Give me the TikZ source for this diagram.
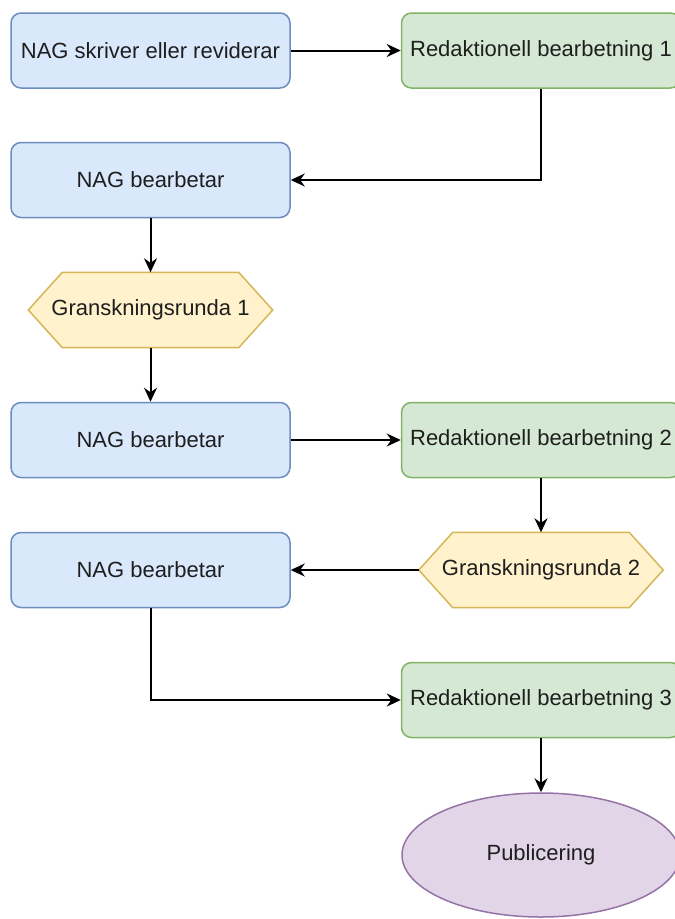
\documentclass[tikz,border=0pt]{standalone}
\usepackage{fontspec}
\setmainfont{Liberation Sans}
\usetikzlibrary{arrows.meta,shapes.geometric,backgrounds,calc}
\definecolor{bluefill}{HTML}{DAE8FC}
\definecolor{bluedraw}{HTML}{6C8EBF}
\definecolor{greenfill}{HTML}{D5E8D4}
\definecolor{greendraw}{HTML}{82B366}
\definecolor{yellowfill}{HTML}{FFF2CC}
\definecolor{yellowdraw}{HTML}{D6B656}
\definecolor{purplefill}{HTML}{E1D5E7}
\definecolor{purpledraw}{HTML}{9673A6}
\definecolor{txt}{HTML}{1E1E1E}
\tikzset{
  base/.style={font=\fontsize{22}{26}\selectfont, text=txt, inner sep=0pt},
  bluebox/.style={base, draw=bluedraw, fill=bluefill, line width=1.5pt, rounded corners=10pt, minimum width=279pt, minimum height=75pt},
  greenbox/.style={base, draw=greendraw, fill=greenfill, line width=1.5pt, rounded corners=10pt, minimum width=279pt, minimum height=75pt},
  hexnode/.style={base, minimum width=244pt, minimum height=75pt},
  hexshape/.style={draw=yellowdraw, fill=yellowfill, line width=1.5pt, line join=miter},
  pubnode/.style={base, ellipse, draw=purpledraw, fill=purplefill, line width=1.5pt, minimum width=278pt, minimum height=124pt},
  conn/.style={line width=2pt, -{Stealth[length=14pt,width=13pt]}}
}
\begin{document}
\begin{tikzpicture}[x=1pt,y=-1pt]
\clip (0,0) rectangle (675,919);
\node[bluebox] (n1) at (150.5,50.5) {NAG skriver eller reviderar};
\node[greenbox] (r1) at (541,50.5) {Redaktionell bearbetning 1};
\node[bluebox] (n2) at (150.5,180) {NAG bearbetar};
\node[hexnode] (g1) at (150.5,310) {Granskningsrunda 1};
\node[bluebox] (n3) at (150.5,440) {NAG bearbetar};
\node[greenbox] (r2) at (541,440) {Redaktionell bearbetning 2};
\node[hexnode] (g2) at (541,570) {Granskningsrunda 2};
\node[bluebox] (n4) at (150.5,570) {NAG bearbetar};
\node[greenbox] (r3) at (541,700) {Redaktionell bearbetning 3};
\node[pubnode] (pub) at (541,855) {Publicering};
\begin{scope}[on background layer]
\fill[white] (0,0) rectangle (675,919);
\foreach \g in {g1,g2}{
  \draw[hexshape] (\g.west) -- ([xshift=34pt]\g.north west) -- ([xshift=-34pt]\g.north east) -- (\g.east) -- ([xshift=-34pt]\g.south east) -- ([xshift=34pt]\g.south west) -- cycle;
}
\end{scope}
\draw[conn] (n1.east) -- (r1.west);
\draw[conn] (r1.south) |- (n2.east);
\draw[conn] (n2.south) -- (g1.north);
\draw[conn] (g1.south) -- (n3.north);
\draw[conn] (n3.east) -- (r2.west);
\draw[conn] (r2.south) -- (g2.north);
\draw[conn] (g2.west) -- (n4.east);
\draw[conn] (n4.south) |- (r3.west);
\draw[conn] (r3.south) -- (pub.north);
\end{tikzpicture}
\end{document}
